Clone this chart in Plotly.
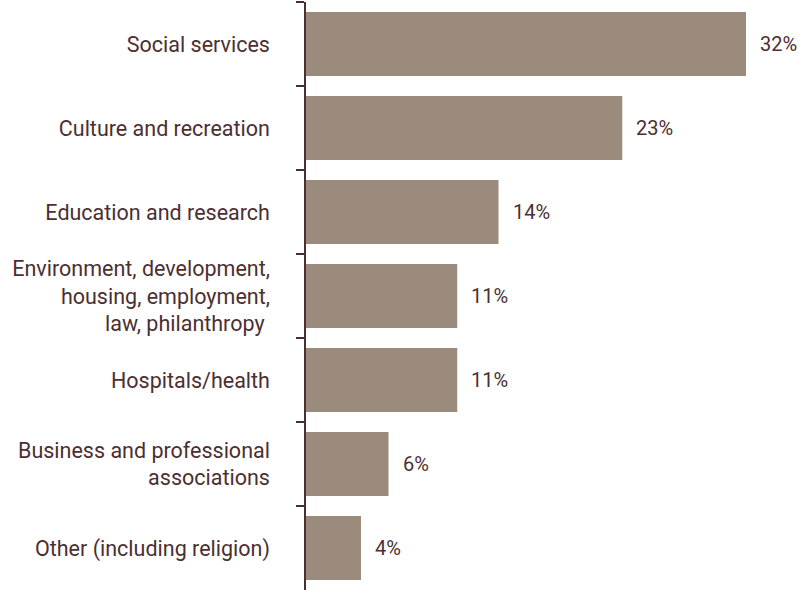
import plotly.graph_objects as go

# Share of organisations by field (percent)
categories = [
    "Social services",
    "Culture and recreation",
    "Education and research",
    "Environment, development,<br>housing, employment,<br>law, philanthropy ",
    "Hospitals/health",
    "Business and professional<br>associations",
    "Other (including religion)",
]
values = [32, 23, 14, 11, 11, 6, 4]
value_labels = ["32%", "23%", "14%", "11%", "11%", "6%", "4%"]

BAR = "#9b8b7c"
INK = "#4b2f31"
FONT = "Roboto"

fig = go.Figure(
    go.Bar(
        x=values,
        y=categories,
        orientation="h",
        marker=dict(color=BAR, line=dict(width=0)),
        width=0.76,
        hoverinfo="skip",
    )
)

for cat, v, lab in zip(categories, values, value_labels):
    fig.add_annotation(
        x=v, y=cat, text=lab, showarrow=False,
        xanchor="left", yanchor="middle", xshift=12,
        font=dict(family=FONT, size=20, color=INK),
    )

fig.update_layout(
    width=798, height=590,
    margin=dict(l=306, r=0, t=2, b=0),
    paper_bgcolor="white", plot_bgcolor="white",
    showlegend=False,
    font=dict(family=FONT, size=20, color=INK),
)
fig.update_xaxes(range=[0, 492 / 13.75], visible=False, fixedrange=True)
fig.update_yaxes(
    autorange="reversed",
    showline=True, linecolor=INK, linewidth=1.5,
    ticks="outside", tickson="boundaries", ticklen=8, tickcolor=INK, tickwidth=1.5,
    ticklabelstandoff=30,
    showgrid=False, zeroline=False, fixedrange=True,
    tickfont=dict(family=FONT, size=21.5, color=INK),
)

fig.write_html("out.html")
